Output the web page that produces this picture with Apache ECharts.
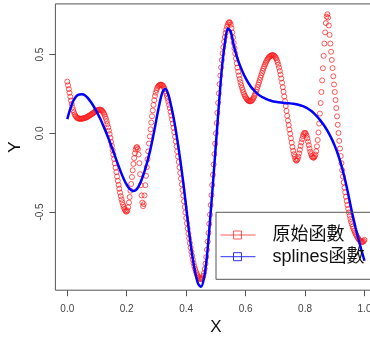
<!DOCTYPE html>
<html><head><meta charset="utf-8">
<script src="https://cdn.jsdelivr.net/npm/echarts@6/dist/echarts.min.js"></script>
<style>html,body{margin:0;padding:0;background:#fff}#c{width:370px;height:342px}</style>
</head><body><div id="c"></div>
<script>
// Original function samples (red circles)
const redX = [
0,0.0025,0.005,0.0075,0.01,0.0125,0.015,0.0175,0.02,0.0225,
0.025,0.0275,0.03,0.0325,0.035,0.0375,0.04,0.0425,0.045,0.0475,
0.05,0.0525,0.055,0.0575,0.06,0.0625,0.065,0.0675,0.07,0.0725,
0.075,0.0775,0.08,0.0825,0.085,0.0875,0.09,0.0925,0.095,0.0975,
0.1,0.1025,0.105,0.1075,0.11,0.1125,0.115,0.1175,0.12,0.1225,
0.125,0.1275,0.13,0.1325,0.135,0.1375,0.14,0.1425,0.145,0.1475,
0.15,0.1525,0.155,0.1575,0.16,0.1625,0.165,0.1675,0.17,0.1725,
0.175,0.1775,0.18,0.1825,0.185,0.1875,0.19,0.1925,0.195,0.1975,
0.2,0.2025,0.205,0.2075,0.21,0.2125,0.215,0.2175,0.22,0.2225,
0.225,0.2275,0.23,0.2325,0.235,0.2375,0.24,0.2425,0.245,0.2475,
0.25,0.2525,0.255,0.2575,0.26,0.2625,0.265,0.2675,0.27,0.2725,
0.275,0.2775,0.28,0.2825,0.285,0.2875,0.29,0.2925,0.295,0.2975,
0.3,0.3025,0.305,0.3075,0.31,0.3125,0.315,0.3175,0.32,0.3225,
0.325,0.3275,0.33,0.3325,0.335,0.3375,0.34,0.3425,0.345,0.3475,
0.35,0.3525,0.355,0.3575,0.36,0.3625,0.365,0.3675,0.37,0.3725,
0.375,0.3775,0.38,0.3825,0.385,0.3875,0.39,0.3925,0.395,0.3975,
0.4,0.4025,0.405,0.4075,0.41,0.4125,0.415,0.4175,0.42,0.4225,
0.425,0.4275,0.43,0.4325,0.435,0.4375,0.44,0.4425,0.445,0.4475,
0.45,0.4525,0.455,0.4575,0.46,0.4625,0.465,0.4675,0.47,0.4725,
0.475,0.4775,0.48,0.4825,0.485,0.4875,0.49,0.4925,0.495,0.4975,
0.5,0.5025,0.505,0.5075,0.51,0.5125,0.515,0.5175,0.52,0.5225,
0.525,0.5275,0.53,0.5325,0.535,0.5375,0.54,0.5425,0.545,0.5475,
0.55,0.5525,0.555,0.5575,0.56,0.5625,0.565,0.5675,0.57,0.5725,
0.575,0.5775,0.58,0.5825,0.585,0.5875,0.59,0.5925,0.595,0.5975,
0.6,0.6025,0.605,0.6075,0.61,0.6125,0.615,0.6175,0.62,0.6225,
0.625,0.6275,0.63,0.6325,0.635,0.6375,0.64,0.6425,0.645,0.6475,
0.65,0.6525,0.655,0.6575,0.66,0.6625,0.665,0.6675,0.67,0.6725,
0.675,0.6775,0.68,0.6825,0.685,0.6875,0.69,0.6925,0.695,0.6975,
0.7,0.7025,0.705,0.7075,0.71,0.7125,0.715,0.7175,0.72,0.7225,
0.725,0.7275,0.73,0.7325,0.735,0.7375,0.74,0.7425,0.745,0.7475,
0.75,0.7525,0.755,0.7575,0.76,0.7625,0.765,0.7675,0.77,0.7725,
0.775,0.7775,0.78,0.7825,0.785,0.7875,0.79,0.7925,0.795,0.7975,
0.8,0.8025,0.805,0.8075,0.81,0.8125,0.815,0.8175,0.82,0.8225,
0.825,0.8275,0.83,0.8325,0.835,0.8375,0.84,0.8425,0.845,0.8475,
0.85,0.8525,0.855,0.8575,0.86,0.8625,0.865,0.8675,0.87,0.8725,
0.875,0.8775,0.88,0.8825,0.885,0.8875,0.89,0.8925,0.895,0.8975,
0.9,0.9025,0.905,0.9075,0.91,0.9125,0.915,0.9175,0.92,0.9225,
0.925,0.9275,0.93,0.9325,0.935,0.9375,0.94,0.9425,0.945,0.9475,
0.95,0.9525,0.955,0.9575,0.96,0.9625,0.965,0.9675,0.97,0.9725,
0.975,0.9775,0.98,0.9825,0.985,0.9875,0.99,0.9925,0.995,0.9975,
1
];
const redY = [
0.328,0.305,0.281,0.257,0.232,0.208,0.186,0.165,0.147,0.132,
0.120,0.111,0.104,0.099,0.096,0.094,0.093,0.092,0.092,0.092,
0.093,0.094,0.095,0.096,0.098,0.100,0.102,0.104,0.107,0.110,
0.113,0.116,0.119,0.122,0.126,0.129,0.133,0.136,0.139,0.142,
0.145,0.147,0.149,0.150,0.150,0.149,0.146,0.142,0.136,0.128,
0.118,0.106,0.092,0.076,0.058,0.038,0.017,-0.005,-0.029,-0.054,
-0.080,-0.107,-0.135,-0.163,-0.191,-0.219,-0.247,-0.275,-0.302,-0.328,
-0.353,-0.377,-0.399,-0.420,-0.438,-0.455,-0.469,-0.481,-0.490,-0.496,
-0.498,-0.490,-0.470,-0.440,-0.405,-0.365,-0.322,-0.278,-0.235,-0.195,
-0.158,-0.127,-0.103,-0.090,-0.088,-0.100,-0.135,-0.190,-0.260,-0.330,
-0.395,-0.440,-0.463,-0.450,-0.395,-0.330,-0.270,-0.215,-0.165,-0.115,
-0.065,-0.020,0.025,0.068,0.108,0.145,0.180,0.210,0.237,0.258,
0.274,0.287,0.296,0.302,0.306,0.308,0.309,0.308,0.305,0.300,
0.292,0.281,0.268,0.253,0.237,0.220,0.201,0.181,0.160,0.137,
0.113,0.088,0.062,0.035,0.007,-0.022,-0.052,-0.083,-0.115,-0.148,
-0.182,-0.217,-0.252,-0.288,-0.324,-0.360,-0.396,-0.432,-0.468,-0.503,
-0.538,-0.572,-0.605,-0.637,-0.668,-0.698,-0.727,-0.754,-0.779,-0.803,
-0.825,-0.845,-0.862,-0.877,-0.890,-0.901,-0.910,-0.917,-0.922,-0.925,
-0.926,-0.924,-0.918,-0.906,-0.888,-0.862,-0.828,-0.787,-0.740,-0.688,
-0.633,-0.576,-0.517,-0.456,-0.393,-0.329,-0.264,-0.198,-0.132,-0.066,
0.000,0.065,0.130,0.193,0.254,0.312,0.367,0.418,0.465,0.508,
0.547,0.581,0.611,0.637,0.659,0.677,0.691,0.701,0.706,0.703,
0.690,0.668,0.640,0.608,0.574,0.540,0.507,0.475,0.445,0.417,
0.391,0.367,0.345,0.325,0.307,0.290,0.275,0.261,0.249,0.238,
0.229,0.221,0.215,0.210,0.206,0.204,0.203,0.204,0.207,0.212,
0.219,0.228,0.239,0.251,0.264,0.278,0.293,0.308,0.323,0.338,
0.353,0.368,0.383,0.397,0.411,0.424,0.436,0.447,0.457,0.466,
0.474,0.481,0.486,0.490,0.493,0.495,0.496,0.496,0.494,0.490,
0.484,0.476,0.465,0.452,0.436,0.417,0.396,0.373,0.348,0.321,
0.293,0.264,0.234,0.204,0.173,0.142,0.111,0.081,0.052,0.024,
-0.003,-0.032,-0.060,-0.087,-0.112,-0.133,-0.150,-0.166,-0.174,-0.172,
-0.163,-0.148,-0.128,-0.105,-0.081,-0.058,-0.037,-0.019,-0.006,0.002,
0.003,-0.003,-0.015,-0.032,-0.053,-0.075,-0.097,-0.117,-0.133,-0.145,
-0.152,-0.155,-0.154,-0.147,-0.135,-0.114,-0.083,-0.043,0.005,0.062,
0.125,0.192,0.262,0.336,0.413,0.492,0.570,0.641,0.700,0.741,
0.756,0.735,0.685,0.625,0.570,0.518,0.466,0.414,0.362,0.310,
0.262,0.211,0.160,0.107,0.054,0.002,-0.048,-0.097,-0.145,-0.190,
-0.235,-0.275,-0.312,-0.345,-0.375,-0.403,-0.430,-0.456,-0.480,-0.503,
-0.524,-0.544,-0.562,-0.578,-0.593,-0.606,-0.618,-0.629,-0.639,-0.648,
-0.657,-0.665,-0.672,-0.678,-0.684,-0.688,-0.691,-0.691,-0.689,-0.684,
-0.677
];
// Smoothing spline (blue line)
const splineX = [
0,0.01,0.02,0.03,0.04,0.05,0.06,0.07,0.08,0.09,
0.1,0.11,0.12,0.13,0.14,0.15,0.16,0.17,0.18,0.19,
0.2,0.21,0.22,0.23,0.24,0.25,0.26,0.27,0.28,0.29,
0.3,0.31,0.32,0.33,0.34,0.35,0.36,0.37,0.38,0.39,
0.4,0.41,0.42,0.43,0.44,0.45,0.46,0.47,0.48,0.49,
0.5,0.51,0.52,0.53,0.54,0.55,0.56,0.57,0.58,0.59,
0.6,0.61,0.62,0.63,0.64,0.65,0.66,0.67,0.68,0.69,
0.7,0.71,0.72,0.73,0.74,0.75,0.76,0.77,0.78,0.79,
0.8,0.81,0.82,0.83,0.84,0.85,0.86,0.87,0.88,0.89,
0.9,0.91,0.92,0.93,0.94,0.95,0.96,0.97,0.98,0.99,
1
];
const splineY = [
0.090,0.155,0.205,0.235,0.247,0.248,0.240,0.222,0.197,0.167,
0.133,0.095,0.053,0.008,-0.040,-0.090,-0.142,-0.195,-0.245,-0.290,
-0.327,-0.353,-0.366,-0.362,-0.338,-0.295,-0.240,-0.175,-0.100,-0.010,
0.090,0.185,0.260,0.283,0.245,0.168,0.075,-0.040,-0.170,-0.310,
-0.470,-0.630,-0.770,-0.880,-0.955,-0.975,-0.920,-0.780,-0.560,-0.320,
-0.070,0.180,0.410,0.570,0.665,0.645,0.560,0.490,0.435,0.390,
0.350,0.318,0.290,0.270,0.250,0.237,0.226,0.217,0.210,0.204,
0.200,0.197,0.195,0.193,0.191,0.190,0.188,0.185,0.180,0.174,
0.166,0.156,0.143,0.127,0.107,0.085,0.060,0.032,0.000,-0.037,
-0.080,-0.130,-0.190,-0.260,-0.340,-0.430,-0.520,-0.600,-0.675,-0.745,
-0.810
];
const xTicks = [0, 0.2, 0.4, 0.6, 0.8, 1.0];
const yTicks = [-0.5, 0, 0.5];
const seriesNames = ['原始函數', 'splines函數'];
const axisNames = ['X', 'Y'];

const FONT = '"Liberation Sans", Arial, "Noto Sans CJK TC", sans-serif';
const chart = echarts.init(document.getElementById('c'), null, {renderer: 'canvas'});
const redData = redX.map((x, i) => [x, redY[i]]);
const blueData = splineX.map((x, i) => [x, splineY[i]]);

chart.setOption({
  animation: false,
  backgroundColor: '#fff',
  grid: {
    left: 55.4, top: 3.9, width: 321, height: 286.3,
    show: true, borderColor: '#555', borderWidth: 1, backgroundColor: 'transparent',
    containLabel: false, outerBoundsMode: 'none'
  },
  xAxis: {
    type: 'value', min: -0.04, max: 1.04, position: 'bottom',
    name: axisNames[0], nameLocation: 'middle', nameGap: 28,
    nameTextStyle: {fontSize: 17, color: '#111', fontFamily: FONT},
    axisLine: {show: false, onZero: false},
    splitLine: {show: false},
    axisTick: {show: true, inside: false, customValues: xTicks, length: 6, lineStyle: {color: '#555', width: 1}},
    axisLabel: {customValues: xTicks, formatter: v => Number(v).toFixed(1), fontSize: 10, color: '#444', margin: 14, fontFamily: FONT}
  },
  yAxis: {
    type: 'value', min: -0.997, max: 0.822, position: 'left',
    name: axisNames[1], nameLocation: 'middle', nameGap: 32,
    nameTextStyle: {fontSize: 17, color: '#111', fontFamily: FONT},
    axisLine: {show: false, onZero: false},
    splitLine: {show: false},
    axisTick: {show: true, inside: false, customValues: yTicks, length: 6, lineStyle: {color: '#555', width: 1}},
    axisLabel: {customValues: yTicks, formatter: v => Number(v).toFixed(1), rotate: 90, fontSize: 10, color: '#444', margin: 10, fontFamily: FONT}
  },
  legend: {
    orient: 'vertical', left: 216, top: 212.3,
    padding: [13.7, 20, 13.6, 4],
    itemGap: 3.7, itemWidth: 35, itemHeight: 9,
    borderColor: '#555', borderWidth: 1, borderRadius: 0,
    backgroundColor: 'transparent',
    textStyle: {fontSize: 18, lineHeight: 18, color: '#111', fontFamily: FONT, padding: [0, 0, 0, 12]},
    data: [
      {name: seriesNames[0], icon: 'path://M0,4.5L35,4.5M13,0.5L21,0.5L21,8.5L13,8.5Z',
       itemStyle: {color: 'rgba(0,0,0,0)', borderColor: '#ff3030', borderWidth: 1},
       lineStyle: {color: '#ff3030', width: 1}},
      {name: seriesNames[1], icon: 'path://M0,4.5L35,4.5M13,0.5L21,0.5L21,8.5L13,8.5Z',
       itemStyle: {color: 'rgba(0,0,0,0)', borderColor: '#3030ff', borderWidth: 1},
       lineStyle: {color: '#3030ff', width: 1}}
    ]
  },
  series: [
    {
      name: seriesNames[0], type: 'scatter', data: redData,
      symbol: 'circle', symbolSize: 5,
      itemStyle: {color: 'rgba(0,0,0,0)', borderColor: '#ff1a1a', borderWidth: 0.9},
      emphasis: {disabled: true}, silent: true, clip: true
    },
    {
      name: seriesNames[1], type: 'line', data: blueData,
      showSymbol: false, symbol: 'none', smooth: 0.3,
      lineStyle: {color: '#0000ff', width: 2.5},
      itemStyle: {color: '#0000ff'},
      emphasis: {disabled: true}, silent: true, clip: true
    }
  ]
});
</script>
</body></html>
